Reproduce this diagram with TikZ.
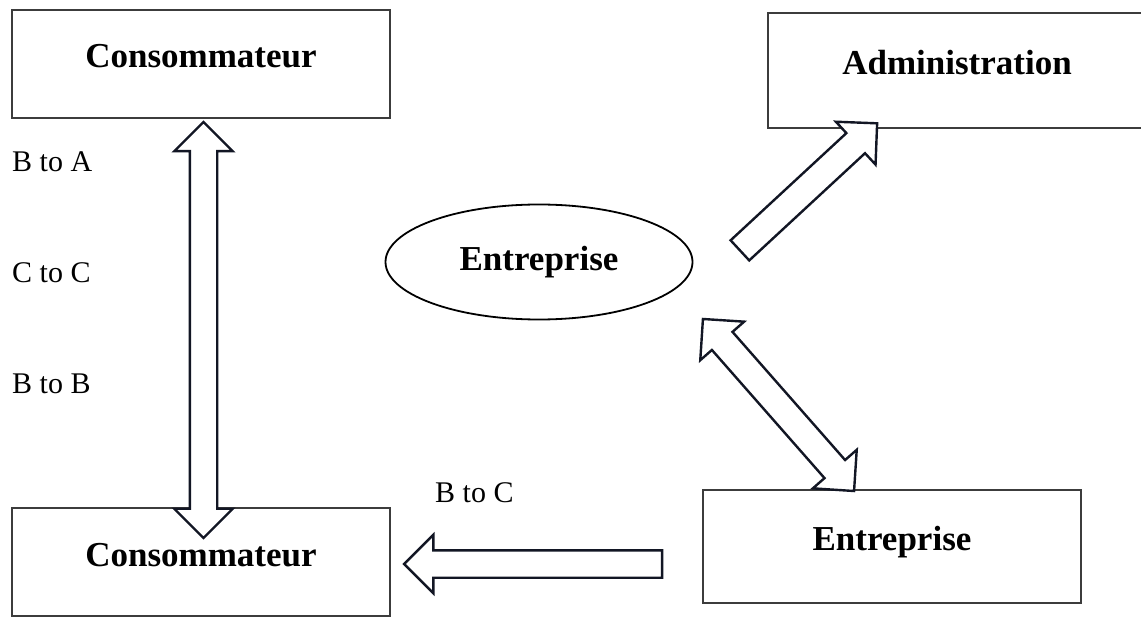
\documentclass[tikz,border=0pt]{standalone}
\usepackage{fontspec}
\setmainfont{Liberation Serif}
\usetikzlibrary{shapes.geometric,shapes.arrows}
\definecolor{boxline}{RGB}{60,60,60}
\definecolor{arrowline}{RGB}{18,22,36}
\tikzset{
  box/.style={draw=boxline, line width=1.2pt, rectangle, minimum width=378pt, minimum height=108pt,
    font=\fontsize{35}{41}\selectfont\bfseries, text height=24pt, text depth=16pt},
  flow/.style={draw=arrowline, line width=2.4pt, fill=white, inner xsep=0pt, inner ysep=12.5pt},
  oneway/.style={single arrow, flow, single arrow head extend=15.5pt},
  twoway/.style={double arrow, flow, double arrow head extend=15.5pt},
  tag/.style={font=\fontsize{30}{36}\selectfont, anchor=base west, inner sep=0pt}
}
\begin{document}
\begin{tikzpicture}[x=1pt,y=-1pt]
\useasboundingbox (0,0) rectangle (1141,617);
\clip (0,0) rectangle (1141,617);

\node[box](cons1) at (201,64) {Consommateur};
\node[box](cons2) at (201,562) {Consommateur};
\node[box, minimum height=115pt](admin) at (957,70.5) {Administration};
\node[box, minimum height=113pt](entr2) at (892,546.5) {Entreprise};
\node[draw, ellipse, line width=1.8pt, inner sep=0pt, minimum width=307pt, minimum height=115pt,
  font=\fontsize{35}{41}\selectfont\bfseries](entr1) at (539,262) {Entreprise};

\node[twoway, minimum height=416pt, rotate=90](vlink) at (203.5,330) {};
\node[oneway, minimum height=187pt, rotate=42.8](alink) at (803.5,191.5) {};
\node[twoway, minimum height=229pt, rotate=-48.7](elink) at (778.5,405) {};
\node[oneway, minimum height=258pt, rotate=180](clink) at (540,564) {};

\node[tag](ba) at (12,172) {B to A};
\node[tag](cc) at (12,283) {C to C};
\node[tag](bb) at (12,394) {B to B};
\node[tag](bc) at (435,502) {B to C};

\end{tikzpicture}
\end{document}
